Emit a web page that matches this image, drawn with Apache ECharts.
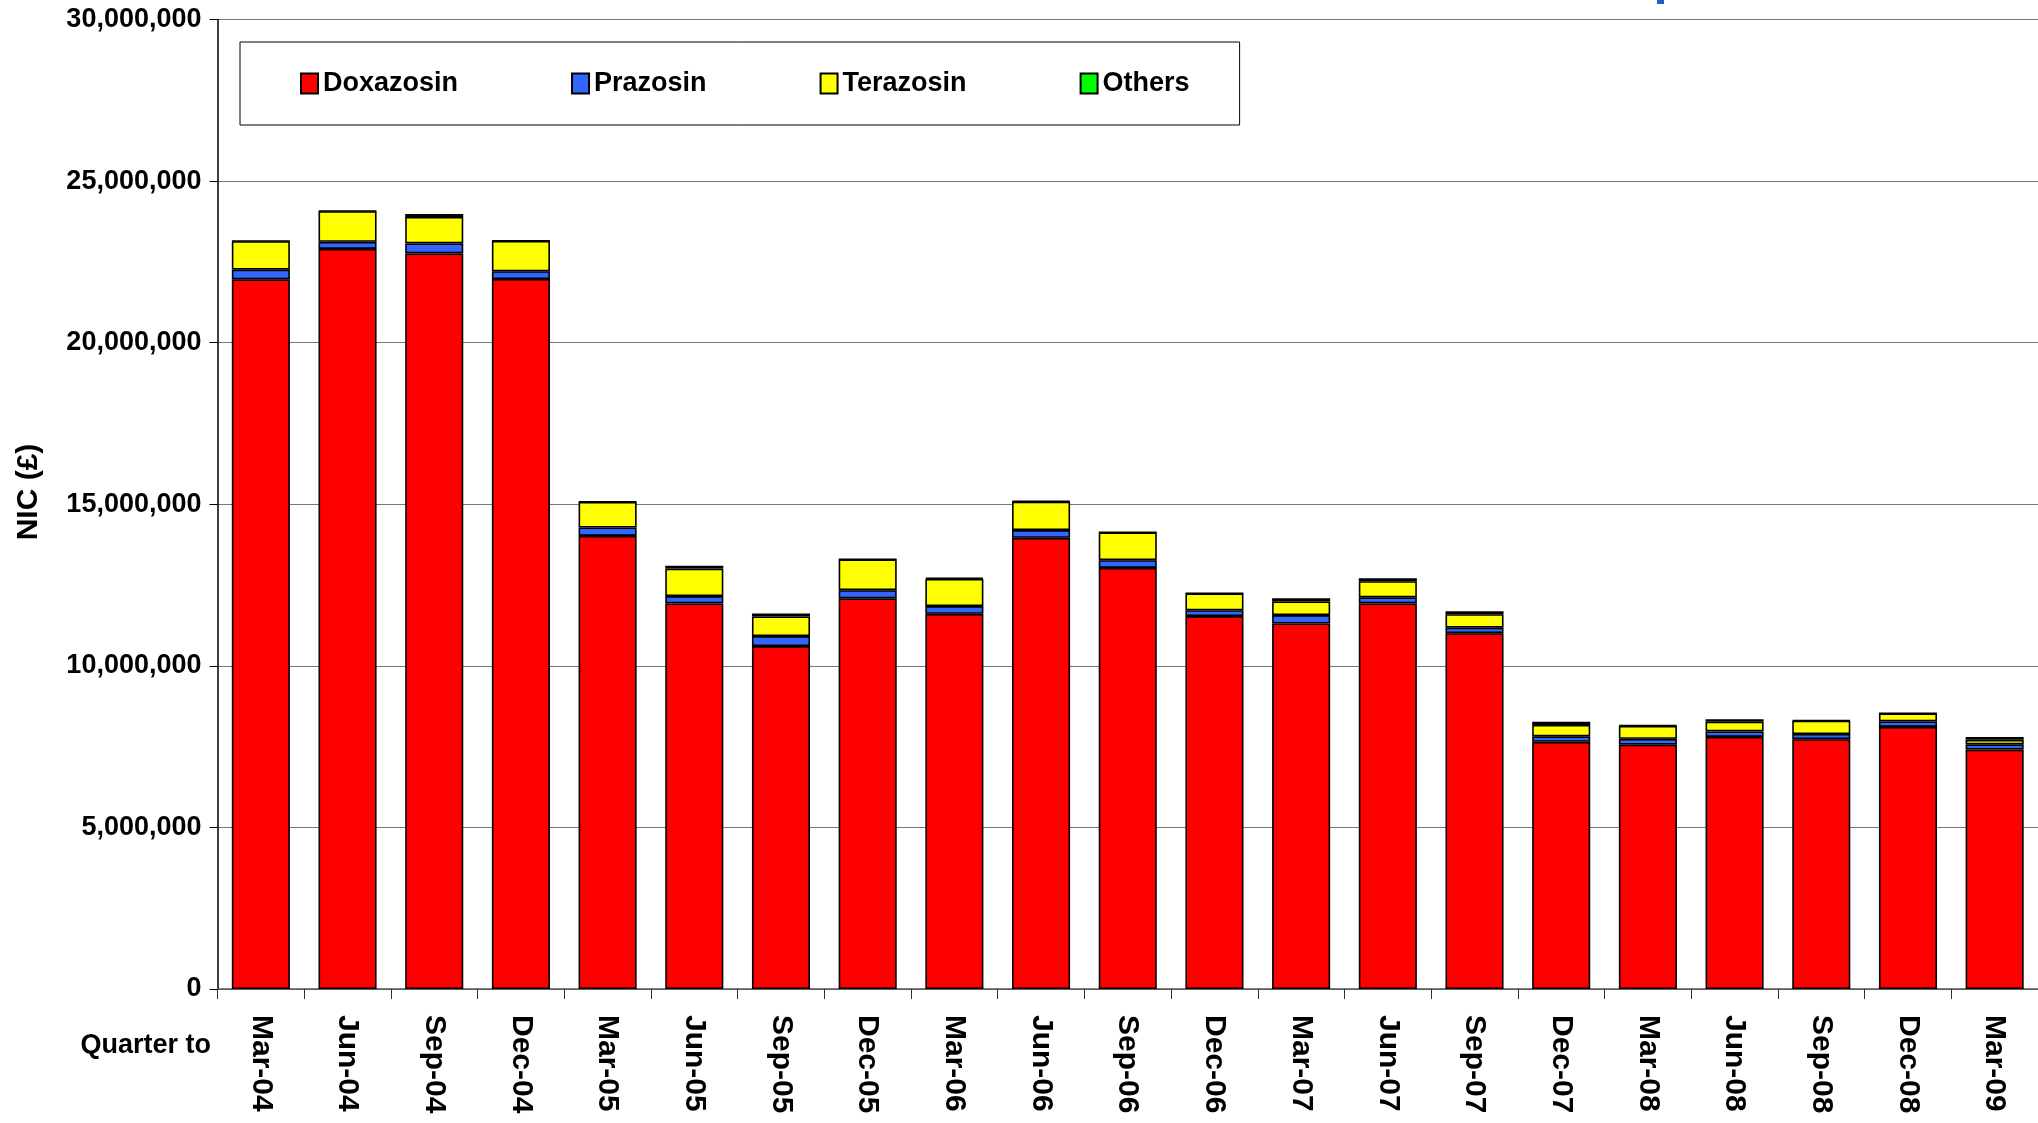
<!DOCTYPE html>
<html>
<head>
<meta charset="utf-8">
<script src="https://cdn.jsdelivr.net/npm/echarts@6/dist/echarts.min.js"></script>
<style>
  html, body { margin: 0; padding: 0; background: #fff; }
  #chart { width: 2038px; height: 1123px; }
</style>
</head>
<body>
<div id="chart"></div>
<script>
// quarters
const quarters = ['Mar-04', 'Jun-04', 'Sep-04', 'Dec-04', 'Mar-05', 'Jun-05', 'Sep-05', 'Dec-05',
  'Mar-06', 'Jun-06', 'Sep-06', 'Dec-06', 'Mar-07', 'Jun-07', 'Sep-07', 'Dec-07',
  'Mar-08', 'Jun-08', 'Sep-08', 'Dec-08', 'Mar-09']

// NIC in millions of pounds
const doxazosin = [21.96, 22.90, 22.76, 21.97, 14.02, 11.93, 10.61, 12.09, 11.61, 13.96, 13.03,
  11.54, 11.31, 11.93, 11.01, 7.65, 7.56, 7.80, 7.73, 8.11, 7.41]
const prazosin = [0.30, 0.22, 0.31, 0.24, 0.26, 0.23, 0.31, 0.25, 0.24, 0.24, 0.24,
  0.18, 0.26, 0.19, 0.17, 0.17, 0.18, 0.17, 0.16, 0.17, 0.16]
const terazosin = [0.88, 0.95, 0.82, 0.94, 0.79, 0.85, 0.61, 0.95, 0.84, 0.88, 0.86,
  0.52, 0.42, 0.50, 0.42, 0.35, 0.40, 0.30, 0.41, 0.25, 0.14]
const others = [0.01, 0.01, 0.09, 0.01, 0.01, 0.09, 0.09, 0.01, 0.03, 0.02, 0.01,
  0.01, 0.10, 0.09, 0.09, 0.10, 0.02, 0.08, 0.02, 0.01, 0.09]

const yTicks = { min: 0, max: 30000000, step: 5000000 }

const font = "'Liberation Sans', Arial, sans-serif"
const toPounds = arr => arr.map(v => Math.round(v * 1e6))

function barSeries(name, color, values) {
  return {
    name: name,
    type: 'bar',
    stack: 'nic',
    barWidth: '67%',
    itemStyle: { color: color, borderColor: '#000', borderWidth: 1.6 },
    data: toPounds(values)
  }
}

const myChart = echarts.init(document.getElementById('chart'), null, { renderer: 'canvas' })

const option = {
  animation: false,
  backgroundColor: '#fff',
  textStyle: { fontFamily: font },
  grid: { left: 217.5, right: -4.5, top: 19.5, bottom: 134, containLabel: false },
  legend: {
    left: 240,
    top: 42,
    padding: [28, 50, 28, 60],
    borderColor: '#000',
    borderWidth: 1,
    backgroundColor: '#fff',
    itemGap: 113,
    itemWidth: 17,
    itemHeight: 20,
    icon: 'rect',
    textStyle: { fontSize: 27, fontWeight: 'bold', color: '#000', fontFamily: font, lineHeight: 27 },
    data: ['Doxazosin', 'Prazosin', 'Terazosin', 'Others']
  },
  xAxis: {
    type: 'category',
    data: quarters,
    axisLine: { lineStyle: { color: '#555', width: 1.5 } },
    axisTick: { show: true, length: 10, lineStyle: { color: '#333' } },
    axisLabel: {
      interval: 0,
      rotate: -90,
      margin: 26,
      fontSize: 30,
      fontWeight: 'bold',
      color: '#000',
      fontFamily: font
    }
  },
  yAxis: {
    type: 'value',
    min: yTicks.min,
    max: yTicks.max,
    interval: yTicks.step,
    axisLine: { show: true, lineStyle: { color: '#000', width: 1.5 } },
    axisTick: { show: true, length: 8, lineStyle: { color: '#000' } },
    splitLine: { lineStyle: { color: '#777', width: 1.2 } },
    axisLabel: {
      margin: 16,
      fontSize: 27,
      fontWeight: 'bold',
      color: '#000',
      fontFamily: font,
      formatter: v => v.toLocaleString('en-GB')
    }
  },
  graphic: [
    {
      type: 'text',
      x: 29,
      y: 492,
      rotation: Math.PI / 2,
      style: { text: 'NIC (£)', font: 'bold 30px ' + font, fill: '#000', textAlign: 'center', textVerticalAlign: 'middle' }
    },
    {
      type: 'text',
      x: 211,
      y: 1046,
      style: { text: 'Quarter to', font: 'bold 27px ' + font, fill: '#000', textAlign: 'right', textVerticalAlign: 'middle' }
    },
    {
      // bit of the cut-off title at the top edge
      type: 'rect',
      shape: { x: 1657, y: 0, width: 7, height: 4 },
      style: { fill: '#1a63c0' }
    }
  ],
  series: [
    barSeries('Doxazosin', '#FF0000', doxazosin),
    barSeries('Prazosin', '#3366FF', prazosin),
    barSeries('Terazosin', '#FFFF00', terazosin),
    barSeries('Others', '#00FF00', others)
  ]
}

myChart.setOption(option)
window.addEventListener('resize', myChart.resize)
</script>
</body>
</html>
